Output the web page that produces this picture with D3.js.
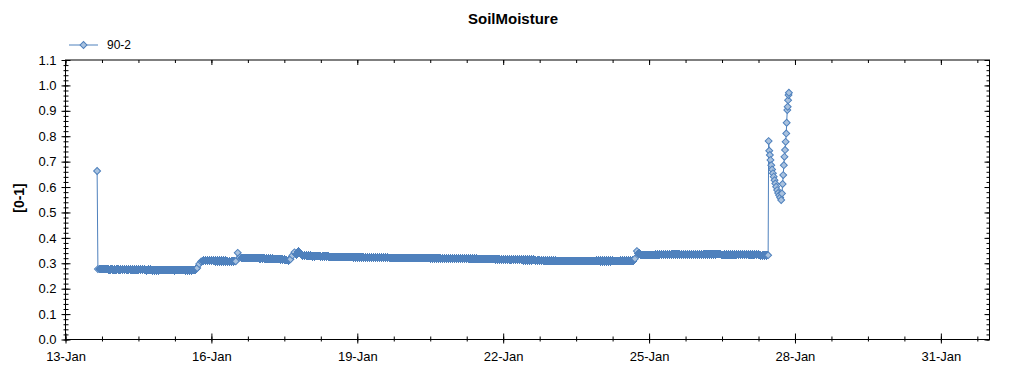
<html>
<head>
<meta charset="utf-8">
<script src="https://cdnjs.cloudflare.com/ajax/libs/d3/7.8.5/d3.min.js"></script>
<style>
  body { margin: 0; background: #fff; }
  text { font-family: "Liberation Sans", Arial, sans-serif; }
</style>
</head>
<body>
<div id="chart"></div>
<script>
// series name and axis texts
var seriesName = "90-2";
var title = "SoilMoisture";
var yTitle = "[0-1]";

// x range of the chart (days) and labelled ticks
var startDate = new Date(2014, 0, 13);
var endDate = new Date(2014, 1, 1);
var xTickLabels = ["13-Jan", "16-Jan", "19-Jan", "22-Jan", "25-Jan", "28-Jan", "31-Jan"];
var yTickLabels = ["0.0", "0.1", "0.2", "0.3", "0.4", "0.5", "0.6", "0.7", "0.8", "0.9", "1.0", "1.1"];

// first reading 13-Jan 15:36
var firstHour = 15.6, firstValue = 0.663;

// hourly readings, jan13 starts at 16:00, the others at 00:00
var jan13 = [0.277,0.277,0.276,0.276,0.276,0.276,0.275,0.276];
var jan14 = [0.275,0.275,0.276,0.275,0.275,0.275,0.275,0.274,0.275,0.274,0.274,0.274,0.274,0.274,0.274,0.274,0.273,0.274,0.274,0.273,0.273,0.273,0.273,0.273];
var jan15 = [0.273,0.273,0.273,0.273,0.273,0.273,0.272,0.273,0.273,0.272,0.272,0.272,0.272,0.272,0.272,0.273,0.275,0.281,0.297,0.307,0.310,0.310,0.310,0.310];
var jan16 = [0.310,0.310,0.309,0.309,0.309,0.309,0.309,0.309,0.308,0.308,0.308,0.308,0.308,0.341,0.322,0.321,0.321,0.321,0.320,0.320,0.320,0.320,0.320,0.320];
var jan17 = [0.319,0.319,0.319,0.318,0.318,0.318,0.318,0.317,0.317,0.317,0.316,0.316,0.315,0.313,0.312,0.316,0.331,0.343,0.336,0.345,0.337,0.331,0.330,0.329];
var jan18 = [0.329,0.329,0.328,0.328,0.328,0.328,0.327,0.327,0.327,0.327,0.326,0.326,0.326,0.326,0.326,0.325,0.325,0.325,0.325,0.325,0.325,0.324,0.324,0.324];
var jan19 = [0.324,0.324,0.324,0.324,0.323,0.323,0.323,0.323,0.323,0.323,0.323,0.322,0.322,0.322,0.322,0.322,0.321,0.321,0.321,0.321,0.321,0.321,0.321,0.321];
var jan20 = [0.321,0.321,0.321,0.321,0.321,0.321,0.320,0.320,0.320,0.320,0.320,0.320,0.320,0.320,0.320,0.320,0.320,0.320,0.319,0.319,0.319,0.319,0.319,0.319];
var jan21 = [0.319,0.319,0.319,0.318,0.318,0.318,0.318,0.318,0.318,0.318,0.318,0.318,0.317,0.316,0.316,0.316,0.316,0.316,0.316,0.316,0.315,0.315,0.315,0.315];
var jan22 = [0.315,0.315,0.315,0.315,0.314,0.314,0.314,0.314,0.314,0.314,0.313,0.313,0.313,0.313,0.313,0.313,0.312,0.312,0.311,0.310,0.310,0.310,0.310,0.310];
var jan23 = [0.310,0.310,0.310,0.310,0.310,0.310,0.310,0.310,0.309,0.310,0.310,0.310,0.309,0.309,0.309,0.309,0.309,0.309,0.309,0.309,0.309,0.309,0.309,0.309];
var jan24 = [0.309,0.309,0.309,0.309,0.309,0.309,0.309,0.309,0.309,0.309,0.310,0.310,0.310,0.310,0.310,0.310,0.310,0.318,0.348,0.339,0.334,0.333,0.333,0.333];
var jan25 = [0.333,0.333,0.333,0.334,0.334,0.334,0.334,0.334,0.335,0.335,0.335,0.335,0.336,0.336,0.336,0.336,0.336,0.336,0.335,0.335,0.335,0.335,0.335,0.335];
var jan26 = [0.335,0.335,0.335,0.335,0.335,0.335,0.335,0.335,0.335,0.335,0.335,0.335,0.334,0.334,0.334,0.334,0.334,0.334,0.334,0.334,0.334,0.334,0.334,0.334];
var jan27 = [0.334,0.334,0.333,0.333,0.333,0.333,0.333,0.332,0.332,0.332,0.332];

// 27-Jan: the jump (hours after midnight, value)
var spikeHours  = [10.75, 11.0, 11.3, 11.6, 11.9, 12.3, 12.7, 13.1, 13.5, 13.9, 14.3, 14.7, 15.2, 15.7, 16.2, 16.7, 17.2, 17.6, 17.9, 18.2, 18.5, 18.8, 19.1, 19.4, 19.7, 19.9, 20.2, 20.4, 20.6, 20.8, 21.0];
var spikeValues = [0.332, 0.781, 0.743, 0.726, 0.706, 0.686, 0.669, 0.654, 0.641, 0.627, 0.614, 0.601, 0.588, 0.577, 0.568, 0.559, 0.549, 0.575, 0.612, 0.647, 0.686, 0.719, 0.746, 0.778, 0.811, 0.853, 0.903, 0.916, 0.942, 0.962, 0.971];

// build the point list; hourly points are flagged as part of the dense run
function at(day, hour) {
  return new Date(2014, 0, day, 0, Math.round(hour * 60));
}
var data = [{t: at(13, firstHour), v: firstValue, run: false}];
jan13.forEach(function (v, i) { data.push({t: at(13, 16 + i), v: v, run: true}); });
[[14, jan14], [15, jan15], [16, jan16], [17, jan17], [18, jan18], [19, jan19], [20, jan20],
 [21, jan21], [22, jan22], [23, jan23], [24, jan24], [25, jan25], [26, jan26], [27, jan27]]
  .forEach(function (d) {
    d[1].forEach(function (v, i) { data.push({t: at(d[0], i), v: v, run: true}); });
  });
spikeHours.forEach(function (h, i) { data.push({t: at(27, h), v: spikeValues[i], run: false}); });

var width = 1024, height = 375;
var plotL = 65.5, plotR = 989.5, plotT = 60, plotB = 339.5;

var svg = d3.select("#chart").append("svg")
  .attr("width", width).attr("height", height);

var x = d3.scaleTime().domain([startDate, endDate]).range([plotL, plotR]);
var y = d3.scaleLinear().domain([0, 1.1]).range([plotB, plotT]);

var majorX = xTickLabels.map(function (d, i) { return d3.timeDay.offset(startDate, i * 3); });
var minorX = d3.timeHour.range(startDate, d3.timeHour.offset(endDate, 1), 18);
var majorY = yTickLabels.map(function (d) { return +d; });
var minorY = d3.range(0, 56).map(function (i) { return i / 50; });

// frame
svg.append("rect")
  .attr("x", plotL).attr("y", plotT)
  .attr("width", plotR - plotL).attr("height", plotB - plotT)
  .style("fill", "none").style("stroke", "#000").style("stroke-width", 1);

function tickStyle(g) {
  g.select(".domain").remove();
  g.selectAll("line").style("stroke", "#000");
}

// bottom axis
svg.append("g").attr("transform", "translate(0," + plotB + ")")
  .call(d3.axisBottom(x).tickValues(minorX).tickSize(2).tickFormat(""))
  .call(tickStyle)
  .selectAll("line").attr("y1", -3).attr("y2", 2);
var bx = svg.append("g").attr("transform", "translate(0," + plotB + ")")
  .call(d3.axisBottom(x).tickValues(majorX).tickSize(4).tickPadding(8)
    .tickFormat(function (d, i) { return xTickLabels[i]; }))
  .call(tickStyle);
bx.selectAll("line").attr("y1", -6).attr("y2", 4);
bx.selectAll("text").style("font-size", "13px").style("fill", "#000")
  .style("font-family", '"Liberation Sans", Arial, sans-serif');

// top ticks (inward)
svg.append("g").attr("transform", "translate(0," + plotT + ")")
  .call(d3.axisBottom(x).tickValues(minorX).tickSize(3).tickFormat(""))
  .call(tickStyle);
svg.append("g").attr("transform", "translate(0," + plotT + ")")
  .call(d3.axisBottom(x).tickValues(majorX).tickSize(5).tickFormat(""))
  .call(tickStyle);

// left axis
svg.append("g").attr("transform", "translate(" + plotL + ",0)")
  .call(d3.axisLeft(y).tickValues(minorY).tickSize(2).tickFormat(""))
  .call(tickStyle)
  .selectAll("line").attr("x1", 3).attr("x2", -2);
var ly = svg.append("g").attr("transform", "translate(" + plotL + ",0)")
  .call(d3.axisLeft(y).tickValues(majorY).tickSize(4).tickPadding(5)
    .tickFormat(function (d, i) { return yTickLabels[i]; }))
  .call(tickStyle);
ly.selectAll("line").attr("x1", 5).attr("x2", -4);
ly.selectAll("text").style("font-size", "13px").style("fill", "#000")
  .style("font-family", '"Liberation Sans", Arial, sans-serif');

// right ticks (inward)
svg.append("g").attr("transform", "translate(" + plotR + ",0)")
  .call(d3.axisRight(y).tickValues(minorY).tickSize(-3).tickFormat(""))
  .call(tickStyle);
svg.append("g").attr("transform", "translate(" + plotR + ",0)")
  .call(d3.axisRight(y).tickValues(majorY).tickSize(-5).tickFormat(""))
  .call(tickStyle);

// titles
svg.append("text")
  .attr("x", 513).attr("y", 19).attr("dy", "0.35em")
  .attr("text-anchor", "middle")
  .style("font-size", "15px").style("font-weight", "bold")
  .text(title);

svg.append("text")
  .attr("transform", "translate(19,198) rotate(-90)")
  .attr("dy", "0.35em")
  .attr("text-anchor", "middle")
  .style("font-size", "14px").style("font-weight", "bold")
  .text(yTitle);

var lineColor = "#4f81bd", markFill = "#a9c2df";
var marker = d3.symbol().type(d3.symbolSquare).size(24);

// series
var line = d3.line()
  .x(function (d) { return x(d.t); })
  .y(function (d) { return y(d.v); });

svg.append("path")
  .datum(data)
  .attr("d", line)
  .style("fill", "none")
  .style("stroke", lineColor)
  .style("stroke-width", 1);

// in the dense hourly run the outlines of the next markers hide the fill
function solid(i) {
  var d = data[i], a = data[i - 1], b = data[i + 1];
  if (!d.run || !a || !b) return false;
  return Math.abs(d.v - a.v) < 0.01 && Math.abs(d.v - b.v) < 0.01;
}
svg.append("g").selectAll("path")
  .data(data)
  .enter()
  .append("path")
  .attr("d", marker)
  .attr("transform", function (d) { return "translate(" + x(d.t) + "," + y(d.v) + ") rotate(45)"; })
  .attr("fill", function (d, i) { return solid(i) ? lineColor : markFill; })
  .attr("stroke", lineColor)
  .attr("stroke-width", function (d, i) { return solid(i) ? 1.6 : 1; })
  .attr("shape-rendering", function (d, i) { return solid(i) ? "crispEdges" : null; });

// legend
var lg = svg.append("g").attr("transform", "translate(69,45)");
lg.append("line").attr("x1", 0).attr("x2", 29).attr("y1", 0).attr("y2", 0)
  .style("stroke", lineColor).style("stroke-width", 1);
lg.append("path").attr("d", marker)
  .attr("transform", "translate(14.5,0) rotate(45)")
  .style("fill", markFill).style("stroke", lineColor).style("stroke-width", 1);
lg.append("text").attr("x", 38).attr("dy", "0.35em")
  .style("font-size", "12px")
  .text(seriesName);
</script>
</body>
</html>
